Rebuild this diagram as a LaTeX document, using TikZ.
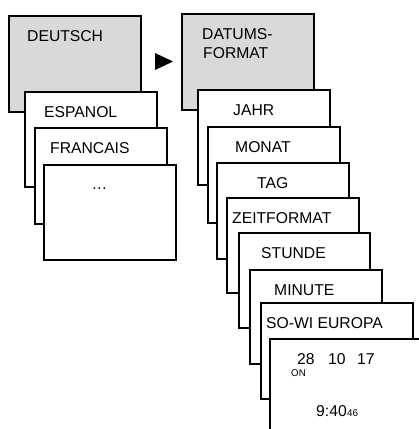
\documentclass[tikz,border=0pt]{standalone}
\usepackage{fontspec}
\setmainfont{Liberation Sans}
\definecolor{boxgray}{RGB}{217,217,217}
\begin{document}
\begin{tikzpicture}[x=1pt,y=-1pt,
  card/.style={draw=black, line width=1.5pt, fill=white, rectangle, inner sep=0pt, anchor=north west},
  txt/.style={inner sep=0pt, anchor=base west, font=\fontsize{15.7}{18}\selectfont},
  small/.style={inner sep=0pt, anchor=base west, font=\fontsize{9.8}{11}\selectfont}]
\useasboundingbox (0,0) rectangle (419,429);
\clip (0,0) rectangle (419,429);
% left stack
\node[card, fill=boxgray, minimum width=132pt, minimum height=96pt] (deu) at (8,15) {};
\node[txt] (deut) at (27,41) {DEUTSCH};
\node[card, minimum width=132pt, minimum height=95pt] (esp) at (24,91) {};
\node[txt] (espt) at (44,117) {ESPANOL};
\node[card, minimum width=132pt, minimum height=96pt] (fra) at (34,127) {};
\node[txt] (frat) at (50,153) {FRANCAIS};
\node[card, minimum width=132pt, minimum height=95pt] (etc) at (43,164) {};
\node[txt, anchor=base] (etct) at (99.5,189) {…};
% arrow
\fill (155,53) -- (173,61.5) -- (155,70) -- cycle;
% right stack
\node[card, fill=boxgray, minimum width=132pt, minimum height=96pt] (dat) at (181,13) {};
\node[txt] (dat1) at (202,39) {DATUMS-};
\node[txt] (dat2) at (203,58) {FORMAT};
\node[card, minimum width=132pt, minimum height=95pt] (jahr) at (197,89) {};
\node[txt] (jahrt) at (233,115) {JAHR};
\node[card, minimum width=132pt, minimum height=96pt] (mon) at (207,126) {};
\node[txt] (mont) at (235,152) {MONAT};
\node[card, minimum width=132pt, minimum height=96pt] (tag) at (216,162) {};
\node[txt] (tagt) at (257,188) {TAG};
\node[card, minimum width=132pt, minimum height=95pt] (zeit) at (226,197) {};
\node[txt] (zeitt) at (232,223) {ZEITFORMAT};
\node[card, minimum width=131pt, minimum height=95pt] (std) at (238,232) {};
\node[txt] (stdt) at (261,258) {STUNDE};
\node[card, minimum width=132pt, minimum height=94pt] (min) at (249,269) {};
\node[txt] (mint) at (274,295) {MINUTE};
\node[card, minimum width=152pt, minimum height=96pt] (sowi) at (260,302) {};
\node[txt] (sowit) at (266,328) {SO-WI EUROPA};
\node[card, minimum width=170pt, minimum height=110pt] (disp) at (269,338) {};
\node[txt] (d28) at (297,364) {28};
\node[txt] (d10) at (328,364) {10};
\node[txt] (d17) at (357,364) {17};
\node[small] (on) at (291,376) {ON};
\node[txt] (time) at (316,416) {9:40};
\node[small, anchor=base west] (sec) at (time.base east) {46};
\end{tikzpicture}
\end{document}
